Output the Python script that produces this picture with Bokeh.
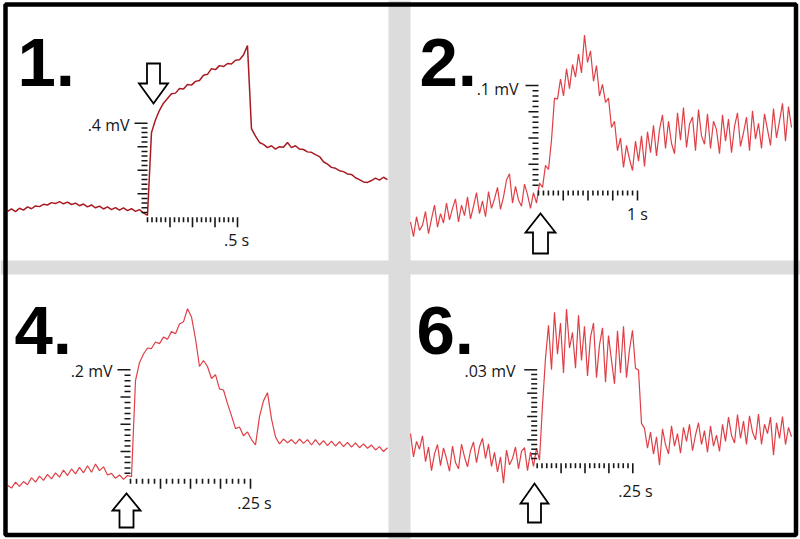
import numpy as np
from bokeh.plotting import figure
from bokeh.models import Range1d
from bokeh.core.properties import value
from bokeh.embed import file_html
from bokeh.resources import INLINE

# ---------------- data ----------------
panel_labels = ["1.", "2.", "4.", "6."]

# sampled recordings, values in microvolts (one sample per step)
v1_uV = [25, 35, 24, 38, 30, 44, 36, 48, 45, 55, 52, 62, 58, 66, 57, 64, 54, 60, 49, 56,
         44, 52, 40, 47, 35, 44, 32, 41, 30, 40, 28, 36, 25, 32, 18,
         8, 360, 415, 455, 485, 505, 525, 528, 548, 546, 565, 562, 578, 582, 604, 608,
         632, 628, 645, 641, 654, 652, 668, 670, 690, 730,
         377, 345, 318, 310, 296, 304, 290, 300, 298, 318, 296, 304, 290, 288, 278,
         276, 266, 258, 236, 226, 212, 208, 198, 194, 184, 182, 168, 160, 150, 148,
         156, 166, 158, 170, 160]

v2_uV = [-30, -44, -25, -38, -33, -20, -41, -27, -14, -35,
         -22, -31, -12, -28, -17, -8, -30, -14, -24, -6,
         -27, -15, -2, -22, -10, -25, -1, -17, -8, 3,
         -18, -6, 10, 16, -12, 4, -9, -15, 6, -4,
         -17, -2, -12, 7, 3, 24, 20, 48, 88, 87,
         106, 90, 116, 97, 120, 108, 130, 112, 148, 122,
         133, 104, 119, 90, 101, 84, 88, 60, 66, 38,
         50, 22, 43, 30, 19, 47, 28, 52, 23, 56,
         36, 62, 33, 58, 72, 40, 66, 45, 35, 74,
         48, 79, 41, 63, 70, 38, 77, 52, 44, 73,
         40, 66, 58, 35, 72, 47, 68, 36, 61, 74,
         42, 55, 70, 38, 76, 49, 64, 40, 73, 58,
         43, 78, 50, 66, 83, 47, 80, 60]

v4_uV = [-12, -17, -6, -14, -5, -11, 2, -6, 5, -3,
         8, 0, 11, 3, 16, 6, 18, 9, 21, 11,
         24, 12, 27, 15, 22, 7, 10, 1, 7, -1,
         6, 4, 180, 213, 229, 240, 239, 251, 248, 260,
         256, 270, 266, 284, 288, 312, 297, 257, 206, 217,
         206, 184, 191, 165, 163, 138, 116, 92, 95, 79,
         86, 72, 62, 114, 143, 158, 110, 77, 64, 73,
         66, 72, 64, 73, 65, 72, 62, 72, 62, 70,
         61, 69, 60, 68, 59, 67, 58, 66, 57, 64,
         56, 62, 53, 59, 50, 57]

v6_uV = [9.5, 2.0, 7.0, 4.5, 8.8, 0.5, 5.2, -2.4, 3.0, 6.0,
         -0.8, 4.9, 1.5, -2.6, 5.5, 0.2, -1.8, 6.1, 2.0, -1.2,
         4.0, 6.8, 0.2, 5.3, 8.0, 1.5, 6.2, -1.0, 3.5, -2.8,
         2.0, -6.4, 4.2, -0.5, 1.5, 5.2, -1.8, 3.8, 5.0, -2.4,
         3.6, -1.0, 4.8, 1.0, 18.6, 33.7, 44.3, 30.0, 48.5, 35.0,
         45.0, 29.0, 49.5, 37.0, 42.0, 30.5, 47.5, 33.0, 44.0, 28.0,
         40.5, 45.0, 27.5, 38.0, 43.5, 26.0, 41.0, 33.0, 25.5, 42.5,
         29.0, 44.0, 27.5, 36.5, 42.7, 30.5, 29.9, 12.8, 11.2, 4.8,
         10.0, 2.9, 8.5, -0.6, 11.0, 6.0, 3.0, 12.0, 5.5, 9.5,
         3.2, 11.5, 7.0, 12.5, 4.0, 9.0, 13.0, 6.0, 10.5, 3.5,
         12.0, 5.5, 9.0, 3.8, 12.5, 7.0, 14.8, 9.0, 6.5, 15.6,
         8.0, 13.5, 6.0, 15.2, 10.0, 7.5, 15.8, 6.0, 12.5, 9.5,
         14.8, 2.6, 13.0, 8.0, 15.0, 6.0, 11.5, 8.5]

# first sample time (s, relative to stimulus onset) and sample interval (s)
t1_first, t1_step = -0.7778, 0.02222
t2_first, t2_step = -1.2929, 0.030303
t4_first, t4_step = -0.25625, 0.008333
t6_first, t6_step = -0.33133, 0.0078452

# scale bars
bar_uV = [400, 100, 200, 30]
bar_s = [0.5, 1.0, 0.25, 0.25]
bar_uV_text = [".4 mV", ".1 mV", ".2 mV", ".03 mV"]
bar_s_text = [".5 s", "1 s", ".25 s", ".25 s"]

# ---------------- layout (page units of an 800 x 539 sheet) ----------------
PAGE_W, PAGE_H = 800, 539
layout = [
    dict(ox=147.0, oy=216.7, sx=180.0, sy=0.235, color="#a81a21", lw=1.5,
         vlab=(129, 124), tlab=(236, 239), num=(17, 62), arrow=(153, 103, -1, 14.5, 20, 6.5, 20)),
    dict(ox=538.0, oy=190.0, sx=99.0, sy=1.05, color="#df4047", lw=1.2,
         vlab=(518, 88), tlab=(637, 213), num=(419, 62), arrow=(540, 213, 1, 15, 19, 7.5, 21)),
    dict(ox=130.0, oy=478.3, sx=480.0, sy=0.545, color="#df4047", lw=1.2,
         vlab=(112, 370), tlab=(254, 502), num=(14, 330), arrow=(126, 493, 1, 14, 17, 7, 17)),
    dict(ox=536.7, oy=462.7, sx=382.4, sy=3.113, color="#df4047", lw=1.2,
         vlab=(515, 370), tlab=(635, 490), num=(416, 330), arrow=(534, 483, 1, 14, 20, 6.5, 19)),
]
traces = [(t1_first, t1_step, v1_uV), (t2_first, t2_step, v2_uV),
          (t4_first, t4_step, v4_uV), (t6_first, t6_step, v6_uV)]

extra_x, extra_y = {}, {}
for k, lay in enumerate(layout):
    extra_x[f"x{k}"] = Range1d((0 - lay["ox"]) / lay["sx"], (PAGE_W - lay["ox"]) / lay["sx"])
    extra_y[f"y{k}"] = Range1d((lay["oy"] - PAGE_H) / lay["sy"], lay["oy"] / lay["sy"])

p = figure(width=800, height=539, x_range=Range1d(0, PAGE_W), y_range=Range1d(PAGE_H, 0),
           x_axis_location=None, y_axis_location=None, toolbar_location=None,
           output_backend="svg", min_border=0)
p.extra_x_ranges = extra_x
p.extra_y_ranges = extra_y
p.grid.visible = False
p.outline_line_color = None
p.background_fill_color = "white"
p.border_fill_color = "white"

# gray gutters between panels
p.quad(left=[388, 0], right=[410, PAGE_W], top=[0, 260], bottom=[PAGE_H, 274],
       fill_color="#dcdcdc", line_color=None)

ink = "#161616"
for k, lay in enumerate(layout):
    xr, yr = f"x{k}", f"y{k}"
    t0, dt, v = traces[k]
    t = t0 + dt * np.arange(len(v))
    p.line(t, v, x_range_name=xr, y_range_name=yr, line_color=lay["color"], line_width=lay["lw"])

    # vertical scale bar (ticks to the left)
    vk = np.arange(1, 21)
    vy = bar_uV[k] * vk / 20.0
    vlen = np.where(vk == 20, 13, np.where(vk % 5 == 0, 10, 6))
    p.segment(x0=np.zeros(len(vk)), y0=vy, x1=-vlen / lay["sx"], y1=vy,
              x_range_name=xr, y_range_name=yr, line_color=ink, line_width=1.5)
    # horizontal scale bar (ticks downward)
    hk = np.arange(0, 21)
    hx = bar_s[k] * hk / 20.0
    hlen = np.where((hk % 5 == 0) & (hk > 0), 10, 5)
    p.segment(x0=hx, y0=np.zeros(len(hk)), x1=hx, y1=-hlen / lay["sy"],
              x_range_name=xr, y_range_name=yr, line_color=ink, line_width=1.6)

    # hollow block arrow marking stimulus onset
    tx, ty, d, hw, hl, sw, sl = lay["arrow"]
    yb = ty + d * hl
    ye = yb + d * sl
    xs = [tx - sw, tx + sw, tx + sw, tx + hw, tx, tx - hw, tx - sw]
    ys = [ye, ye, yb, yb, ty, yb, yb]
    p.patch(xs, ys, fill_color="white", line_color="black", line_width=1.8, line_join="miter")

# scale bar labels
p.text(x=[l["vlab"][0] for l in layout], y=[l["vlab"][1] for l in layout], text=bar_uV_text,
       text_font=value("Open Sans"), text_font_size="16px", text_align="right",
       text_baseline="middle", text_color=ink)
p.text(x=[l["tlab"][0] for l in layout], y=[l["tlab"][1] for l in layout], text=bar_s_text,
       text_font=value("Open Sans"), text_font_size="16px", text_align="center",
       text_baseline="middle", text_color=ink)

# panel numbers
p.text(x=[l["num"][0] for l in layout], y=[l["num"][1] for l in layout], text=panel_labels,
       text_font=value("Liberation Sans"), text_font_style="bold", text_font_size="69px",
       text_baseline="alphabetic", text_color="black")

# outer frame
p.quad(left=[5], right=[795.5], top=[4], bottom=[534.5], fill_color=None,
       line_color="black", line_width=4.5)

open("out.html", "w").write(file_html(p, INLINE))
